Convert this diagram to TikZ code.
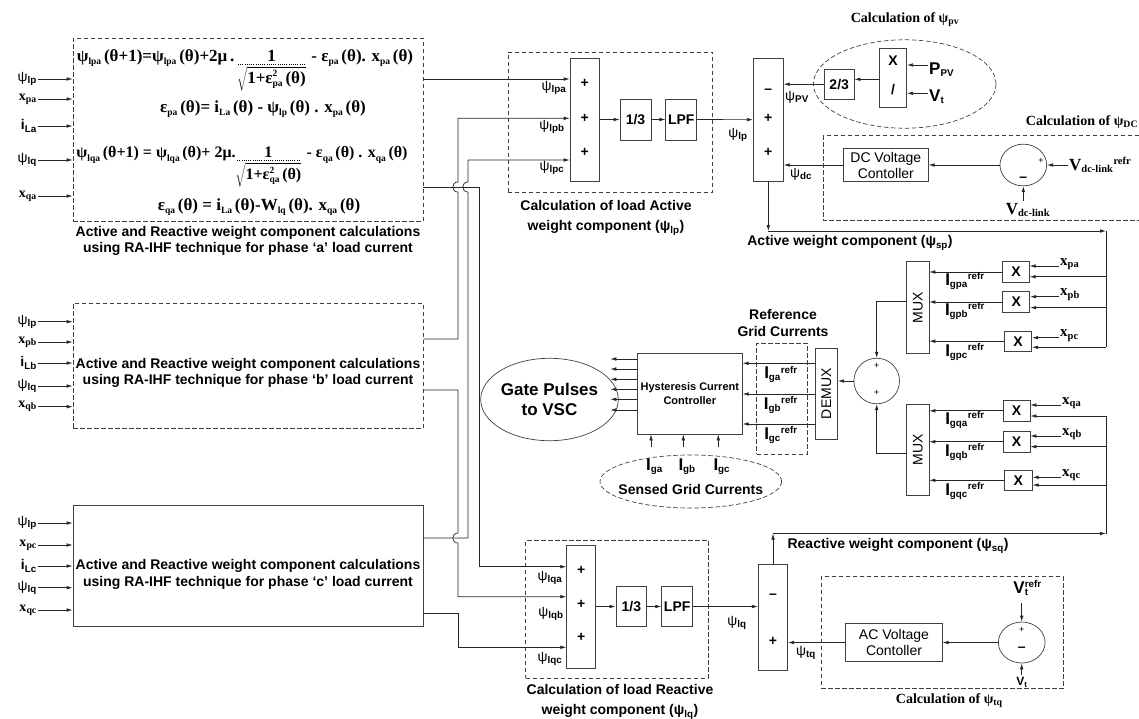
\documentclass[tikz,border=0pt]{standalone}
\usepackage{fontspec}
\setmainfont{Liberation Serif}
\setsansfont{Liberation Sans}
\usepackage{graphicx}
\usepackage{tikz}
\usetikzlibrary{arrows.meta,shapes.geometric}

\newcommand{\sansall}{\sffamily}
\newcommand{\fs}[1]{\fontsize{#1}{#1}\selectfont}
\newcommand{\wpsi}[1]{{\sffamily ψ\textsubscript{\bfseries #1}}}
\newcommand{\xin}[1]{{\rmfamily\bfseries x\textsubscript{#1}}}
\newcommand{\iin}[1]{{\sffamily\bfseries i\textsubscript{#1}}}
\newcommand{\stk}[3]{#1\makebox[0pt][l]{\textsuperscript{#2}}\textsubscript{#3}}
\newcommand{\Iref}[1]{{\fs{17}I}\textsubscript{#1}\textsuperscript{refr}}
% subscripts in the update equations
\newcommand{\es}[1]{\raisebox{-0.45ex}{\fs{9.5}#1}\,}
\newcommand{\est}[2]{\makebox[0pt][l]{\raisebox{0.9ex}{\fs{9.5}#1}}\raisebox{-0.45ex}{\fs{9.5}#2}}
\newcommand{\dotfr}[2]{\vtop{\offinterlineskip
  \halign{\hfil##\hfil\cr #1\cr\noalign{\kern2.5pt}
  \cleaders\hbox to 2.2pt{\hss\vrule width 1pt height 0.7pt\hss}\hfill\cr
  \noalign{\kern2pt}#2\cr}}}

\tikzset{
  blk/.style={draw=black!75, line width=0.7pt, inner sep=1pt, align=center,
              font=\sansall\bfseries\fs{14}},
  rblk/.style={blk, font=\sansall\fontsize{14}{16}\selectfont},
  dblk/.style={blk, dash pattern=on 4.5pt off 2.5pt},
  dln/.style={draw=black!75, line width=0.7pt, dash pattern=on 4.5pt off 2.5pt},
  ell/.style={draw=black!75, line width=0.7pt, ellipse, inner sep=0pt},
  dell/.style={ell, dash pattern=on 4.5pt off 2.5pt},
  wire/.style={draw=black!85, line width=0.7pt},
  ar/.style={wire, -{Latex[length=6pt,width=3.6pt]}},
  sgn/.style={font=\sansall\bfseries\fs{14}, inner sep=0pt},
  tsgn/.style={font=\sansall\fs{9}, inner sep=0pt},
  lbl/.style={font=\sansall\fs{14}, inner sep=1pt},
  blbl/.style={font=\sansall\bfseries\fontsize{14}{17}\selectfont, inner sep=1pt, align=center},
  slbl/.style={font=\rmfamily\bfseries\fs{15}, inner sep=1pt},
  capt/.style={font=\sansall\bfseries\fontsize{14}{16.5}\selectfont, align=center, inner sep=0pt},
  captw/.style={capt, font=\sansall\bfseries\fontsize{14}{20.5}\selectfont},
  scap/.style={font=\rmfamily\bfseries\fs{14}, inner sep=0pt},
  eqn/.style={font=\rmfamily\bfseries\fs{17}, inner sep=0pt},
}

\begin{document}
\begin{tikzpicture}[x=1pt,y=-1pt]
  \useasboundingbox (0,0) rectangle (1139,718);

  % phase blocks a, b, c
  \node[dblk, minimum width=350pt, minimum height=183pt] (blkA) at (248,129.5) {};
  \node[dblk, minimum width=350pt, minimum height=125pt] (blkB) at (248,365.5) {};
  \node[blk,  minimum width=350pt, minimum height=121pt] (blkC) at (248,566.2) {};

  \node[eqn] (eqA1) at (245,70) {ψ\es{lpa}(θ+1)=ψ\es{lpa}(θ)+2μ\,.\,\dotfr{1}{$\sqrt{\hbox{1+ε\est{2}{pa}\,(θ)}}$}\,\,- ε\es{pa}(θ). x\es{pa}(θ)};
  \node[eqn] (eqA2) at (263,109) {ε\es{pa}(θ)= i\es{La}(θ) - ψ\es{lp}(θ) . x\es{pa}(θ)};
  \node[eqn, font=\rmfamily\bfseries\fs{16}] (eqA3) at (242,167) {ψ\es{lqa}(θ+1) = ψ\es{lqa}(θ)+ 2μ.\dotfr{1}{$\sqrt{\hbox{1+ε\est{2}{qa}\,(θ)}}$}\,\,- ε\es{qa}(θ) . x\es{qa}(θ)};
  \node[eqn] (eqA4) at (259,207) {ε\es{qa}(θ) = i\es{La}(θ)-W\es{lq}(θ). x\es{qa}(θ)};

  \node[capt] (capPa) at (248,241) {Active and Reactive weight component calculations\\using RA-IHF technique for phase ‘a’ load current};
  \node[capt] (txtB) at (248,373) {Active and Reactive weight component calculations\\using RA-IHF technique for phase ‘b’ load current};
  \node[capt] (txtC) at (248,574.6) {Active and Reactive weight component calculations\\using RA-IHF technique for phase ‘c’ load current};

  \foreach \b/\y/\t [count=\i] in {
      blkA/79/\wpsi{lp}, blkA/99/\xin{pa}, blkA/126/\iin{La}, blkA/160/\wpsi{lq}, blkA/196/\xin{qa},
      blkB/321.7/\wpsi{lp}, blkB/342/\xin{pb}, blkB/363/\iin{Lb}, blkB/386/\wpsi{lq}, blkB/406.7/\xin{qb},
      blkC/523/\wpsi{lp}, blkC/545/\xin{pc}, blkC/566/\iin{Lc}, blkC/587.7/\wpsi{lq}, blkC/610/\xin{qc}}
  {
    \node[lbl, anchor=east] (in\i) at (38,\y) {\t};
    \draw[ar] (in\i.east) -- (\b.west |- in\i.east);
  }

  % load active weight
  \node[blk, minimum width=29.3pt, minimum height=123.3pt] (sumA) at (584.7,119.5) {};
  \foreach \y [count=\i] in {83,118,152} \node[sgn] (sgA\i) at (584.7,\y) {+};
  \node[blk, minimum width=31pt, minimum height=41pt] (thirdA) at (635.5,119.5) {1/3};
  \node[blk, minimum width=31pt, minimum height=41pt] (lpfA) at (681.3,119.5) {LPF};
  \node[dblk, minimum width=204.7pt, minimum height=140.7pt] (boxA) at (610.3,122.3) {};
  \node[captw] (capA) at (606,217.7) {Calculation of load Active\\weight component (\wpsi{lp})};
  \node[lbl] (wlpa) at (554,88) {\wpsi{lpa}};
  \node[lbl] (wlpb) at (552,127) {\wpsi{lpb}};
  \node[lbl] (wlpc) at (552,168) {\wpsi{lpc}};

  % load reactive weight
  \node[blk, minimum width=29pt, minimum height=123pt] (sumB) at (581.2,606.5) {};
  \foreach \y [count=\i] in {570,604.3,637.7} \node[sgn] (sgB\i) at (581.2,\y) {+};
  \node[blk, minimum width=30.7pt, minimum height=40pt] (thirdB) at (631.3,606.5) {1/3};
  \node[blk, minimum width=31pt, minimum height=40pt] (lpfB) at (677.2,606.5) {LPF};
  \node[dblk, minimum width=182.6pt, minimum height=137.6pt] (boxB) at (617,609.5) {};
  \node[captw] (capB) at (620,701.7) {Calculation of load Reactive\\weight component (\wpsi{lq})};
  \node[lbl] (wlqa) at (550,578) {\wpsi{lqa}};
  \node[lbl] (wlqb) at (551,614) {\wpsi{lqb}};
  \node[lbl] (wlqc) at (550,659) {\wpsi{lqc}};

  % wiring from the phase blocks
  \draw[ar] (blkA.east |- 0,79) -- (sumA.west |- 0,79);
  \draw[ar] (blkB.east |- 0,339) -- (458,339) -- (458,192)
     .. controls (451,192) and (451,182) .. (458,182) -- (458,118.3) -- (sumA.west |- 0,118.3);
  \draw[ar] (blkC.east |- 0,538) -- (468,538) -- (468,192)
     .. controls (461,192) and (461,182) .. (468,182) -- (468,160) -- (sumA.west |- 0,160);
  \draw[ar] (blkA.east |- 0,187) -- (479,187) -- (479,566.7) -- (sumB.west |- 0,566.7);
  \draw[ar] (blkB.east |- 0,390) -- (458,390) -- (458,533)
     .. controls (451,533) and (451,543) .. (458,543) -- (458,596.7) -- (sumB.west |- 0,596.7);
  \draw[ar] (blkC.east |- 0,613) -- (458,613) -- (458,647.3) -- (sumB.west |- 0,647.3);

  \draw[ar] (sumA) -- (thirdA);
  \draw[ar] (thirdA) -- (lpfA);
  \draw[ar] (sumB) -- (thirdB);
  \draw[ar] (thirdB) -- (lpfB);

  % active weight (psi_sp)
  \node[blk, minimum width=30pt, minimum height=122.7pt] (sumP) at (768.3,119.7) {};
  \node[sgn] (sgP1) at (768.3,91.7) {–};
  \node[sgn] (sgP2) at (768.3,118) {+};
  \node[sgn] (sgP3) at (768.3,152) {+};
  \draw[ar] (lpfA) -- (sumP);
  \node[lbl] (wlp) at (738,135) {\wpsi{lp}};

  \node[blk, minimum width=29.7pt, minimum height=30.3pt] (two3) at (839.2,84.2) {2/3};
  \node[blk, minimum width=27.4pt, minimum height=59pt] (divX) at (893,77.8) {};
  \node[sgn] (divM) at (893,61) {X};
  \node[sgn] (divD) at (893,90) {/};
  \node[dell, minimum width=182.6pt, minimum height=88.4pt] (pvE) at (904.7,84) {};
  \node[scap] (capPV) at (905,20) {Calculation of ψ\textsubscript{pv}};
  \node[blbl, anchor=west] (ppv) at (928,70) {{\fs{17}P}\textsubscript{PV}};
  \node[blbl, anchor=west] (vt1) at (928,97) {{\fs{17}V}\textsubscript{t}};
  \draw[ar] (ppv.west |- 0,65) -- (divX.east |- 0,65);
  \draw[ar] (vt1.west |- 0,93.3) -- (divX.east |- 0,93.3);
  \draw[ar] (divX.west |- 0,79.3) -- (two3.east |- 0,79.3);
  \draw[ar] (two3) -- (sumP.east |- two3);
  \node[lbl] (wpv) at (797,97) {\wpsi{PV}};

  \node[rblk, minimum width=85pt, minimum height=32.7pt] (dcC) at (885.8,165) {DC Voltage\\Contoller};
  \node[ell, minimum width=46.7pt, minimum height=41.7pt] (dcS) at (1023.3,165) {};
  \node[tsgn] (dcSp) at (1041,161) {+};
  \node[sgn] (dcSm) at (1023.3,179) {–};
  \draw[ar] (dcS) -- (dcC);
  \draw[ar] (dcC) -- (sumP.east |- dcC);
  \node[slbl, anchor=west] (vdcr) at (1068,165) {{\fs{17}V}\textsubscript{dc-link}\textsuperscript{refr}};
  \draw[ar] (vdcr.west) -- (dcS.east);
  \node[slbl] (vdc) at (1028,210) {{\fs{17}V}\textsubscript{dc-link}};
  \draw[ar] (dcS.south |- 0,201) -- (dcS.south);
  \draw[dln] (1139,135.7) -| (823.3,220) -- (1139,220);
  \node[scap] (capDC) at (1082,122) {Calculation of ψ\textsubscript{DC}};
  \node[lbl] (wdc) at (801,174) {\wpsi{dc}};

  \coordinate (spC) at (sumP.south |- 0,231);
  \coordinate (spR) at (1106,231);
  \draw[ar] (sumP) -- (spC);
  \draw[ar] (spC) -- (spR);
  \draw[wire] (spR) -- (spR |- 0,347.3);
  \node[blbl] (lsp) at (850,243) {Active weight component (ψ\textsubscript{sp})};

  % reference currents
  \foreach \n/\x/\y/\w in {pa/1016/272/26.6, pb/1016.3/302/27, pc/1018/341.2/27.4,
                           qa/1016.5/410.8/27, qb/1016.5/441.7/27, qc/1018.3/480.3/28}
    \node[blk, minimum width=\w pt, minimum height=20.6pt] (x\n) at (\x,\y) {X};
  \node[rblk, minimum width=22.3pt, minimum height=91.6pt] (mux1) at (917.8,307.5) {\rotatebox{90}{MUX}};
  \node[rblk, minimum width=22.3pt, minimum height=91pt] (mux2) at (917.8,449.5) {\rotatebox{90}{MUX}};
  \foreach \n/\ya/\yb in {pa/266/276.7, pb/296.7/307.7, pc/337.7/347.3}{
    \node[slbl, anchor=west] (lx\n) at (1059,\ya-2) {x\textsubscript{\n}};
    \draw[ar] (lx\n.west |- 0,\ya) -- (x\n.east |- 0,\ya);
    \draw[ar] (spR |- 0,\yb) -- (x\n.east |- 0,\yb);
    \draw[ar] (x\n) -- (mux1.east |- x\n);
  }
  \foreach \n/\ya/\yb in {qa/405/416, qb/436/446.7, qc/477.3/485}{
    \node[slbl, anchor=west] (lx\n) at (1061,\ya-2) {x\textsubscript{\n}};
    \draw[ar] (lx\n.west |- 0,\ya) -- (x\n.east |- 0,\ya);
    \draw[ar] (1106,\yb) -- (x\n.east |- 0,\yb);
    \draw[ar] (x\n) -- (mux2.east |- x\n);
  }
  \foreach \s/\y in {gpa/281, gpb/311, gpc/352, gqa/420, gqb/452, gqc/491}
    \node[blbl] (i\s) at (965,\y) {\Iref{\s}};

  \node[ell, circle, minimum size=45.6pt] (sgc) at (876.7,381) {};
  \node[tsgn] (sgc1) at (876.7,366) {+};
  \node[tsgn] (sgc2) at (876.7,392.7) {+};
  \draw[ar] (mux1.west |- 0,301.7) -| (sgc.north);
  \draw[ar] (mux2.west |- 0,453.3) -| (sgc.south);
  \node[rblk, minimum width=22.7pt, minimum height=91pt] (demux) at (826.3,393.8) {\rotatebox{90}{DEMUX}};
  \draw[ar] (sgc) -- (demux.east |- sgc);
  \node[dblk, minimum width=50.6pt, minimum height=111pt] (refb) at (782,398.8) {};
  \node[blbl] (refl) at (783,323) {Reference\\Grid Currents};

  % hysteresis controller
  \node[blk, font=\sansall\bfseries\fontsize{11}{14}\selectfont, minimum width=105pt, minimum height=80.7pt] (hcc) at (689.8,393.7) {Hysteresis Current\\Controller};
  \foreach \y/\s [count=\i] in {363.3/ga, 394/gb, 424/gc}{
    \draw[ar] (demux.west |- 0,\y) -- (hcc.east |- 0,\y);
    \node[blbl] (ir\i) at (781,\y+11) {\Iref{\s}};
  }
  \foreach \y in {359,369,379.3,389.3,399.3,410}
    \draw[ar] (hcc.west |- 0,\y) -- ++(-26.6,0);
  \node[ell, minimum width=111pt, minimum height=82.4pt, align=center,
        font=\sansall\bfseries\fontsize{17}{20}\selectfont] (gate) at (549.5,399.5) {Gate Pulses\\to VSC};

  \node[dell, minimum width=181.6pt, minimum height=53pt] (sens) at (690.8,481.5) {};
  \node[blbl] (sensl) at (690.8,489) {Sensed Grid Currents};
  \foreach \x/\s in {651/ga, 683.3/gb, 718.3/gc}{
    \node[blbl, anchor=west] (ls\s) at (\x-6,467) {{\fs{17}I}\textsubscript{\s}};
    \draw[ar] (\x,446.7) -- (hcc.south -| \x,0);
  }

  % reactive weight (psi_sq)
  \node[blk, minimum width=29.4pt, minimum height=105.7pt] (sumQ) at (773,617.2) {};
  \node[sgn] (sgQ1) at (773,596.7) {–};
  \node[sgn] (sgQ2) at (773,641.7) {+};
  \draw[ar] (lpfB) -- (sumQ.west |- lpfB);
  \node[lbl] (wlq) at (737,623) {\wpsi{lq}};

  \node[rblk, minimum width=96.6pt, minimum height=38.4pt] (acC) at (894,642.5) {AC Voltage\\Contoller};
  \node[ell, minimum width=46.7pt, minimum height=41pt] (acS) at (1021.7,642.5) {};
  \node[tsgn] (acSp) at (1021.7,630) {+};
  \node[sgn] (acSm) at (1021.7,649) {–};
  \draw[ar] (acS) -- (acC);
  \draw[ar] (acC) -- (sumQ.east |- acC);
  \node[lbl] (wtq) at (806,653) {\wpsi{tq}};
  \node[blbl] (vtr) at (1021,588) {\stk{{\fs{17}V}}{refr}{t}};
  \draw[ar] (acS.north |- 0,603) -- (acS.north);
  \node[blbl, font=\sansall\bfseries\fs{12}] (vtb) at (1022,682) {V\textsubscript{t}};
  \draw[ar] (acS.south |- 0,675) -- (acS.south);
  \node[dblk, minimum width=242.3pt, minimum height=111.6pt] (boxAC) at (942.2,632.5) {};
  \node[scap] (capAC) at (949.3,700.7) {Calculation of ψ\textsubscript{tq}};

  \coordinate (sqC) at (sumQ.north |- 0,533.5);
  \coordinate (sqR) at (1106,533.5);
  \draw[ar] (sumQ) -- (sqC);
  \draw[ar] (sqC) -- (sqR);
  \draw[wire] (sqR) -- (sqR |- 0,416);
  \node[blbl] (lsq) at (898,546) {Reactive weight component (ψ\textsubscript{sq})};
\end{tikzpicture}
\end{document}
